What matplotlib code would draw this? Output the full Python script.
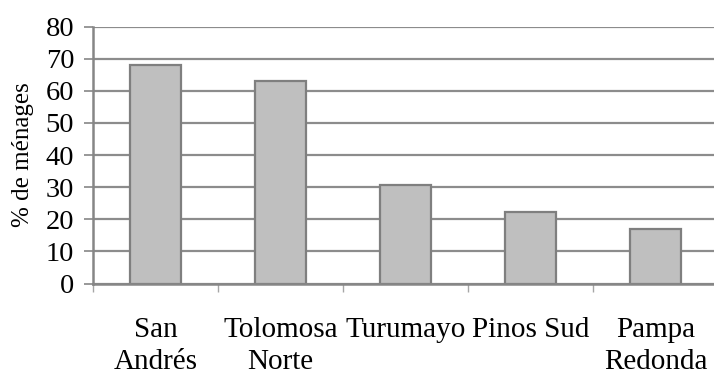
"""Share of households by community, bar chart."""

import matplotlib

matplotlib.use("Agg")
import matplotlib.pyplot as plt
import numpy as np

categories = ["San\nAndrés", "Tolomosa\nNorte", "Turumayo", "Pinos Sud", "Pampa\nRedonda"]
values = [68, 63, 30.7, 22.2, 17]
y_ticks = [0, 10, 20, 30, 40, 50, 60, 70, 80]

plt.rcParams["font.family"] = ["Liberation Serif", "DejaVu Serif"]

GRID = "#8c8c8c"
AXIS = "#868686"

fig = plt.figure(figsize=(7.14, 3.74), dpi=100)
ax = fig.add_axes([93 / 714, 1 - 283.5 / 374, 625 / 714, (283.5 - 26.7) / 374])

x = np.arange(len(categories))
ax.bar(x, values, width=0.41, color="#bfbfbf", edgecolor="#7f7f7f", linewidth=1.6, zorder=3)

ax.set_xlim(-0.5, len(categories) - 0.5)
ax.set_ylim(0, 80)
ax.set_yticks(y_ticks)
ax.yaxis.grid(True, color=GRID, linewidth=1.6, zorder=0)
ax.set_axisbelow(True)

# category boundaries carry the x ticks, labels sit under the centres
ax.set_xticks(np.arange(len(categories) + 1) - 0.5)
ax.set_xticklabels([])
ax.set_xticks(x, minor=True)
ax.set_xticklabels(categories, minor=True, fontsize=21, linespacing=1.32)
ax.tick_params(axis="x", which="major", length=6, width=1.0, color="#a6a6a6", direction="out")
ax.tick_params(axis="x", which="minor", length=0, pad=24)
ax.tick_params(axis="y", length=6.5, width=1.2, color=AXIS, labelsize=20.5, pad=7)

for side in ("top", "right"):
    ax.spines[side].set_visible(False)
for side in ("left", "bottom"):
    ax.spines[side].set_color(AXIS)
    ax.spines[side].set_linewidth(1.8)
    ax.spines[side].set_zorder(4)

ax.set_ylabel("% de ménages", fontsize=18)
ax.yaxis.set_label_coords(-0.095, 0.5)

fig.savefig("out.png", dpi=100)
